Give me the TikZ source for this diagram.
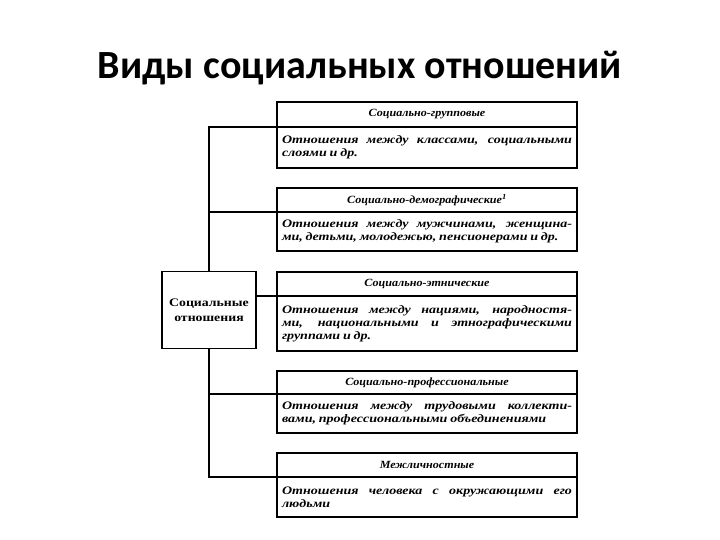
\documentclass[tikz,border=0pt]{standalone}
\usepackage{fontspec}
\setmainfont{Liberation Serif}
\newfontfamily\titlefont{Carlito}
\newfontfamily\headfont[FakeStretch=1.1]{Liberation Serif}
\newfontfamily\bodyfont[FakeStretch=1.22,WordSpace={0.8,1.5,0.3}]{Liberation Serif}
\newfontfamily\rootfont[FakeStretch=1.2]{Liberation Serif}
\begin{document}
\begin{tikzpicture}[x=1pt,y=-1pt,
  frame/.style={draw=black, line width=1.3pt, rectangle, inner sep=0pt, outer sep=0pt,
    anchor=north west, minimum width=300pt},
  headbox/.style={frame, font=\headfont\bfseries\itshape\fontsize{11}{13}\selectfont, align=center},
  bodybox/.style={frame, inner xsep=5pt, text width=290pt, align=justify,
    font=\bodyfont\bfseries\itshape\fontsize{11.5}{13}\selectfont},
  rootbox/.style={draw=black, line width=1.3pt, rectangle, inner sep=0pt, outer sep=0pt,
    minimum width=94pt, minimum height=77pt, align=center,
    font=\rootfont\bfseries\fontsize{11.5}{15}\selectfont},
  link/.style={line width=1.1pt}]
\useasboundingbox (0,0) rectangle (720,540);
\fill[white] (0,0) rectangle (720,540);

\node[font=\titlefont\bfseries\fontsize{40}{44}\selectfont, anchor=base] (title) at (360,79)
  {Виды социальных отношений};

% box 1
\node[headbox, minimum height=25pt] (h1) at (277,102) {Социально-групповые};
\node[bodybox, minimum height=41pt] (b1) at (277,127)
  {Отношения между классами, социальными\linebreak слоями и др.};
% box 2
\node[headbox, minimum height=24pt] (h2) at (277,188) {Социально-демографические\textsuperscript{1}};
\node[bodybox, minimum height=39pt] (b2) at (277,212)
  {Отношения между мужчинами, женщина-\linebreak ми, детьми, молодежью, пенсионерами и~др.};
% box 3
\node[headbox, minimum height=24pt] (h3) at (277,272) {Социально-этнические};
\node[bodybox, minimum height=55pt] (b3) at (277,296)
  {Отношения между нациями, народностя-\linebreak ми, национальными и этнографическими\linebreak группами и др.};
% box 4
\node[headbox, minimum height=23pt] (h4) at (277,371) {Социально-профессиональные};
\node[bodybox, minimum height=39pt] (b4) at (277,394)
  {Отношения между трудовыми коллекти-\linebreak вами, профессиональными объединениями};
% box 5
\node[headbox, minimum height=24pt] (h5) at (277,453) {Межличностные};
\node[bodybox, minimum height=40pt] (b5) at (277,477)
  {Отношения человека с окружающими его\linebreak людьми};

% root
\node[rootbox] (root) at (209,310) {Социальные\\отношения};

% connectors
\coordinate (j1) at (root.north |- b1.north west);
\coordinate (j2) at (root.north |- b2.north west);
\coordinate (j4) at (root.north |- b4.north west);
\coordinate (j5) at (root.north |- b5.north west);
\draw[link] (b1.north west) -- (j1) -- (root.north);
\draw[link] (j2) -- (b2.north west);
\draw[link] (root.south) -- (j5) -- (b5.north west);
\draw[link] (j4) -- (b4.north west);
\draw[link] (root.east |- b3.north west) -- (b3.north west);
\end{tikzpicture}
\end{document}
